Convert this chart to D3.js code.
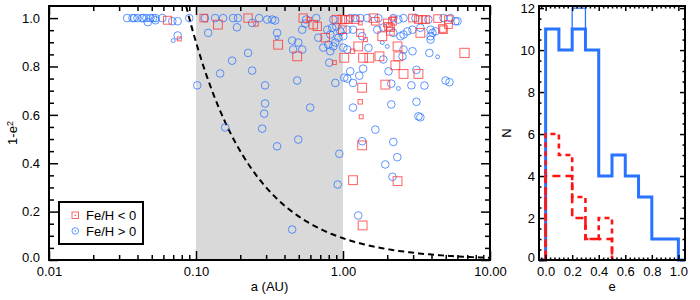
<!doctype html>
<html>
  <head>
    <meta charset="utf-8">
    <title>Eccentricity vs semi-major axis</title>
    <script src="https://cdnjs.cloudflare.com/ajax/libs/d3/7.8.5/d3.min.js"></script>
    <style>
      body { margin: 0; background: #fff; }
      text { font-family: "Liberation Sans", Arial, Helvetica, sans-serif; fill: #000; }
      .tick line { stroke: #000; stroke-width: 1.5; }
      .tick text { font-size: 13px; }
    </style>
  </head>
  <body>
    <div id="chart"></div>
    <script>
      // scatter: [a (AU), 1-e^2, mass]
      const metalPoor = [
        [0.064,0.991,1.6],[0.077,0.914,0.4],
        [0.113,1.0,1.5],[0.141,0.973,2.0],[0.226,1.0,1.8],[0.256,0.976,0.5],[0.362,0.890,2.0],
        [0.488,0.842,2.0],[0.536,1.0,1.8],[0.589,0.994,0.5],[0.628,0.973,1.8],[0.668,0.966,1.8],
        [0.757,0.919,1.8],[0.873,0.816,0.4],[0.900,0.994,1.8],[0.989,0.994,1.8],[0.989,0.952,1.5],
        [1.04,0.994,1.5],[1.09,0.994,1.5],[1.21,0.994,1.5],[1.61,1.0,1.8],[1.66,0.987,1.5],
        [2.00,0.980,1.5],[2.04,0.966,1.5],[2.10,0.961,1.5],[2.17,0.987,1.5],[2.20,1.0,0.4],
        [2.97,1.0,1.5],[3.26,0.994,1.5],[3.47,0.994,1.5],[3.64,0.994,1.5],[4.40,0.998,1.5],
        [5.22,0.973,1.5],[4.83,0.952,1.5],[5.22,0.994,1.5],
        [1.31,0.939,1.3],[1.31,0.980,0.4],[1.42,0.911,0.4],[1.85,0.925,2.0],[2.10,0.945,1.5],
        [3.36,0.939,2.0],[4.75,0.957,1.5],
        [1.27,0.883,2.0],[1.16,0.863,0.5],[2.35,0.883,2.0],[1.02,0.836,2.0],[1.37,0.836,2.0],
        [1.51,0.836,2.0],[1.77,0.842,2.0],[2.38,0.842,2.0],[6.71,0.856,2.2],
        [2.27,0.805,2.0],[2.58,0.769,2.0],[3.26,0.769,2.0],[1.94,0.725,2.0],[1.35,0.712,2.0],
        [1.31,0.654,0.5],[1.33,0.592,0.4],
        [1.35,0.474,2.0],[1.17,0.330,2.0],[2.35,0.326,2.0],[1.36,0.143,2.0]
      ];
      const metalRich = [
        [0.034,1.0,1.5],[0.037,1.0,1.5],[0.038,1.0,1.5],[0.040,1.0,1.5],[0.043,1.0,1.5],
        [0.044,1.0,1.5],[0.046,1.0,1.5],[0.049,1.0,1.5],[0.051,1.0,1.5],[0.053,1.0,1.5],
        [0.059,1.0,1.5],[0.047,0.983,1.5],[0.053,0.991,1.5],[0.069,0.987,1.5],[0.075,0.987,1.5],
        [0.090,1.0,1.5],[0.070,0.907,0.4],[0.075,0.928,1.5],
        [0.102,0.722,1.5],[0.115,1.0,1.5],[0.121,0.939,1.5],[0.135,1.0,1.5],[0.153,1.0,1.5],
        [0.179,1.0,1.5],[0.193,1.0,1.5],[0.190,0.962,1.5],[0.241,0.980,1.5],[0.269,1.0,1.5],
        [0.305,0.994,1.5],[0.330,0.994,1.5],[0.345,0.990,1.5],[0.356,0.939,1.5],[0.356,0.919,0.4],
        [0.226,0.856,1.5],[0.176,0.824,1.5],[0.146,0.771,1.5],[0.241,0.783,1.5],[0.295,0.722,1.5],
        [0.295,0.647,1.5],[0.291,0.605,1.5],[0.282,0.543,1.5],[0.158,0.548,1.5],[0.496,0.498,1.5],
        [0.356,0.470,1.5],[0.598,0.630,1.5],[0.488,0.742,1.5],[0.887,0.732,1.5],[1.02,0.754,1.5],
        [0.944,0.439,1.5],[0.451,0.126,1.5],[0.451,0.907,1.5],[0.496,0.899,1.5],[0.458,0.870,1.5],
        [0.528,0.870,1.5],[0.562,0.994,1.5],[0.658,1.0,1.5],[0.553,0.977,1.5],[0.528,0.952,1.5],
        [0.679,0.919,1.5],[0.734,0.878,1.5],[0.819,0.863,1.5],[0.859,0.883,1.5],[0.807,0.816,1.5],
        [0.859,0.994,1.5],
        [0.782,0.952,1.5],[0.845,0.960,1.5],[0.900,0.965,1.5],[0.960,0.945,1.5],[0.820,0.932,1.5],
        [0.930,0.919,1.5],[1.005,0.925,1.5],[0.887,0.899,1.5],[0.794,0.890,1.5],
        [1.12,1.0,1.5],[1.21,1.0,1.5],[1.31,1.0,1.5],[1.46,1.0,1.5],[1.74,1.0,1.5],[2.20,1.0,1.5],
        [2.38,0.994,1.5],[2.58,1.0,1.5],[3.11,1.0,1.5],[3.81,0.994,1.5],[4.83,1.0,1.5],
        [5.38,1.0,1.5],[5.82,0.987,1.5],[6.01,0.987,1.5],
        [1.07,0.952,1.5],[1.17,0.952,1.5],[1.35,0.925,1.5],[1.71,0.952,1.5],[1.88,0.961,1.5],
        [2.20,0.939,1.5],[2.46,0.925,1.5],[2.58,0.932,1.5],[2.74,0.945,1.5],[2.97,0.952,1.5],
        [3.36,0.960,1.5],[3.94,0.952,1.5],[3.94,0.925,1.5],[4.26,0.945,1.5],[3.94,0.911,1.5],
        [4.06,0.939,1.5],
        [1.005,0.878,1.5],[1.07,0.870,1.5],[1.49,0.877,1.5],[1.85,0.899,0.4],[2.00,0.883,0.4],
        [2.58,0.870,1.5],[2.54,0.842,1.5],[1.88,0.829,1.5],[3.87,0.856,1.5],[4.40,0.840,0.4],
        [2.97,0.863,1.5],
        [1.37,0.791,1.5],[1.12,0.780,1.5],[1.29,0.762,1.5],[2.04,0.780,1.5],[3.16,0.786,1.5],
        [1.07,0.750,1.5],[1.17,0.732,1.5],[2.13,0.729,1.5],[2.38,0.709,0.4],[2.92,0.722,1.5],
        [3.58,0.721,1.5],[4.98,0.742,1.5],[5.30,0.735,1.5],
        [1.17,0.630,1.5],[2.13,0.643,1.5],[3.16,0.654,1.5],[3.26,0.594,1.5],[3.36,0.590,1.5],
        [1.66,0.539,1.5],
        [1.35,0.491,1.5],[2.20,0.488,1.5],[2.34,0.425,1.5],[1.94,0.395,1.5],[2.17,0.344,1.5],
        [0.92,0.312,1.5],[1.27,0.184,1.5]
      ];

      // shaded band and the dashed limit curve (1-e^2 = k/a)
      const band = [0.1, 1.0];
      const limitK = 0.09;

      // histogram of e, bins of 0.1
      const binEdges = [0, 0.1, 0.2, 0.3, 0.4, 0.5, 0.6, 0.7, 0.8, 0.9, 1.0, 1.1];
      const richCounts = [11, 10, 11, 10, 4, 5, 4, 3, 1, 1, 0];
      const richCountsAll = [11, 10, 12, 10, 4, 5, 4, 3, 1, 1, 0];
      const poorCounts = [6, 5, 3, 1, 2];
      const poorCountsAlt = [4, 4, 2, 1, 1];

      // ticks
      const aTicks = [0.01, 0.1, 1, 10];
      const aLabels = ['0.01', '0.10', '1.00', '10.00'];
      const qTicks = [0, 0.2, 0.4, 0.6, 0.8, 1.0];
      const qLabels = ['0.0', '0.2', '0.4', '0.6', '0.8', '1.0'];
      const eTicks = [0, 0.2, 0.4, 0.6, 0.8, 1.0];
      const eLabels = ['0.0', '0.2', '0.4', '0.6', '0.8', '1.0'];
      const nTicks = [0, 2, 4, 6, 8, 10, 12];

      const red = 'rgb(255,45,45)', blue = 'rgb(40,115,255)';

      const svg = d3.select('#chart').append('svg')
        .attr('width', 700).attr('height', 300);

      const yTop = 6, yBottom = 260;

      // ---------- left panel ----------
      const x = d3.scaleLog().domain([0.01, 10]).range([49, 490]);
      const y = d3.scaleLinear().domain([0, 1.05]).range([yBottom, yTop]);
      const rSize = d3.scaleSqrt().domain([0, 3]).range([0, 5.4]);

      const left = svg.append('g');

      left.append('rect')
        .attr('x', x(band[0])).attr('y', yTop)
        .attr('width', x(band[1]) - x(band[0])).attr('height', yBottom - yTop)
        .attr('fill', '#d9d9d9');

      // limit curve
      const aStart = limitK / y.domain()[1];
      const curvePts = d3.range(0, 121).map(i => aStart * Math.pow(10 / aStart, i / 120));
      left.append('path')
        .datum(curvePts)
        .attr('d', d3.line().x(a => x(a)).y(a => y(limitK / a)))
        .attr('fill', 'none').attr('stroke', '#000')
        .attr('stroke-width', 2).attr('stroke-dasharray', '6,4');

      left.append('g').selectAll('circle')
        .data(metalRich).join('circle')
        .attr('cx', d => x(d[0])).attr('cy', d => y(d[1]))
        .attr('r', d => rSize(d[2]))
        .attr('fill', 'none').attr('stroke', blue).attr('stroke-opacity', 0.75);

      left.append('g').selectAll('rect')
        .data(metalPoor).join('rect')
        .attr('x', d => x(d[0]) - rSize(d[2])).attr('y', d => y(d[1]) - rSize(d[2]))
        .attr('width', d => 2 * rSize(d[2])).attr('height', d => 2 * rSize(d[2]))
        .attr('fill', 'none').attr('stroke', red).attr('stroke-opacity', 0.75);

      const aMinor = x.ticks().filter(t => !aTicks.some(m => Math.abs(m - t) < 1e-9));
      const qMinor = d3.range(0, 1.001, 0.05).filter(t => !qTicks.some(m => Math.abs(m - t) < 1e-9));

      function ticks(g, axis, tx, ty) {
        const s = g.append('g').attr('transform', `translate(${tx},${ty})`).call(axis);
        s.select('.domain').remove();
        return s;
      }

      ticks(left, d3.axisBottom(x).tickValues(aTicks).tickFormat((d, i) => aLabels[i]).tickSize(-9).tickPadding(7), 0, yBottom);
      ticks(left, d3.axisBottom(x).tickValues(aMinor).tickFormat('').tickSize(-5), 0, yBottom);
      ticks(left, d3.axisTop(x).tickValues(aTicks).tickFormat('').tickSize(-9), 0, yTop);
      ticks(left, d3.axisTop(x).tickValues(aMinor).tickFormat('').tickSize(-5), 0, yTop);
      const yl = ticks(left, d3.axisLeft(y).tickValues(qTicks).tickFormat((d, i) => qLabels[i]).tickSize(-9).tickPadding(9), x.range()[0], 0);
      yl.selectAll('.tick text').filter(d => d === 0).attr('dy', '0.1em');
      ticks(left, d3.axisLeft(y).tickValues(qMinor).tickFormat('').tickSize(-5), x.range()[0], 0);
      ticks(left, d3.axisRight(y).tickValues(qTicks).tickFormat('').tickSize(-9), x.range()[1], 0);
      ticks(left, d3.axisRight(y).tickValues(qMinor).tickFormat('').tickSize(-5), x.range()[1], 0);

      left.append('rect')
        .attr('x', 49).attr('y', yTop).attr('width', 441).attr('height', yBottom - yTop)
        .attr('fill', 'none').attr('stroke', '#000').attr('stroke-width', 2);

      left.append('text')
        .attr('x', 269.5).attr('y', 291).attr('text-anchor', 'middle')
        .style('font-size', '13px').text('a (AU)');

      const yt = left.append('text')
        .attr('transform', 'translate(17,133) rotate(-90)')
        .attr('text-anchor', 'middle').style('font-size', '13px');
      yt.append('tspan').text('1-e');
      yt.append('tspan').attr('dy', '-0.45em').style('font-size', '9px').text('2');

      // legend
      const lg = left.append('g');
      lg.append('rect').attr('x', 59).attr('y', 202).attr('width', 84).attr('height', 42)
        .attr('fill', '#fff').attr('stroke', '#000').attr('stroke-width', 2);
      lg.append('rect').attr('x', 72).attr('y', 212).attr('width', 6.5).attr('height', 6.5)
        .attr('fill', 'none').attr('stroke', red).attr('stroke-opacity', 0.75);
      lg.append('circle').attr('cx', 75.25).attr('cy', 215.25).attr('r', 0.7).attr('fill', red);
      lg.append('circle').attr('cx', 75.25).attr('cy', 231).attr('r', 3.3)
        .attr('fill', 'none').attr('stroke', blue).attr('stroke-opacity', 0.75);
      lg.append('circle').attr('cx', 75.25).attr('cy', 231).attr('r', 0.7).attr('fill', blue);
      lg.append('text').attr('x', 86).attr('y', 220).style('font-size', '13px').text('Fe/H < 0');
      lg.append('text').attr('x', 86).attr('y', 236).style('font-size', '13px').text('Fe/H > 0');

      // ---------- right panel ----------
      const ex = d3.scaleLinear().domain([-0.05, 1.05]).range([539, 685]);
      const ny = d3.scaleLinear().domain([0, 12.1]).range([yBottom, yTop]);

      const right = svg.append('g');
      svg.append('clipPath').attr('id', 'hclip').append('rect')
        .attr('x', 539).attr('y', yTop - 2).attr('width', 146).attr('height', yBottom - yTop + 4);

      function steps(counts) {
        const pts = [[binEdges[0] - 0.1, 0], [binEdges[0], 0]];
        counts.forEach((c, i) => { pts.push([binEdges[i], c], [binEdges[i + 1], c]); });
        pts.push([binEdges[counts.length], 0]);
        return pts;
      }
      const step = d3.line().x(d => ex(d[0])).y(d => ny(d[1]));
      const hg = right.append('g').attr('clip-path', 'url(#hclip)');

      hg.append('path').attr('d', step(steps(richCountsAll)))
        .attr('fill', 'none').attr('stroke', blue).attr('stroke-width', 1.3);
      hg.append('path').attr('d', step(steps(richCounts)))
        .attr('fill', 'none').attr('stroke', blue).attr('stroke-width', 3);
      hg.append('path').attr('d', step(steps(poorCountsAlt)))
        .attr('fill', 'none').attr('stroke', 'rgb(255,20,20)').attr('stroke-width', 2.6)
        .attr('stroke-dasharray', '8,5');
      hg.append('path').attr('d', step(steps(poorCounts)))
        .attr('fill', 'none').attr('stroke', 'rgb(255,20,20)').attr('stroke-width', 2.6)
        .attr('stroke-dasharray', '5,4');

      const eMinor = d3.range(0, 31).map(i => -0.0333 + i * (0.2 / 6)).filter(t => t > -0.05 && t < 1.05)
        .filter(t => !eTicks.some(m => Math.abs(m - t) < 1e-3));
      const nMinor = d3.range(0, 12.01, 0.5).filter(t => t % 2 !== 0);

      ticks(right, d3.axisBottom(ex).tickValues(eTicks).tickFormat((d, i) => eLabels[i]).tickSize(-5).tickPadding(7), 0, yBottom);
      ticks(right, d3.axisBottom(ex).tickValues(eMinor).tickFormat('').tickSize(-2.5), 0, yBottom);
      ticks(right, d3.axisTop(ex).tickValues(eTicks).tickFormat('').tickSize(-5), 0, yTop);
      ticks(right, d3.axisTop(ex).tickValues(eMinor).tickFormat('').tickSize(-2.5), 0, yTop);
      const nl = ticks(right, d3.axisLeft(ny).tickValues(nTicks).tickSize(-5).tickPadding(4), 539, 0);
      nl.selectAll('.tick text').filter(d => d === 0).attr('dy', '0.1em');
      ticks(right, d3.axisLeft(ny).tickValues(nMinor).tickFormat('').tickSize(-2.5), 539, 0);
      ticks(right, d3.axisRight(ny).tickValues(nTicks).tickFormat('').tickSize(-5), 685, 0);
      ticks(right, d3.axisRight(ny).tickValues(nMinor).tickFormat('').tickSize(-2.5), 685, 0);

      right.append('rect')
        .attr('x', 539).attr('y', yTop).attr('width', 146).attr('height', yBottom - yTop)
        .attr('fill', 'none').attr('stroke', '#000').attr('stroke-width', 2);

      right.append('text').attr('x', 612).attr('y', 291).attr('text-anchor', 'middle')
        .style('font-size', '13px').text('e');
      right.append('text').attr('transform', 'translate(511,133) rotate(-90)')
        .attr('text-anchor', 'middle').style('font-size', '13px').text('N');
    </script>
  </body>
</html>
